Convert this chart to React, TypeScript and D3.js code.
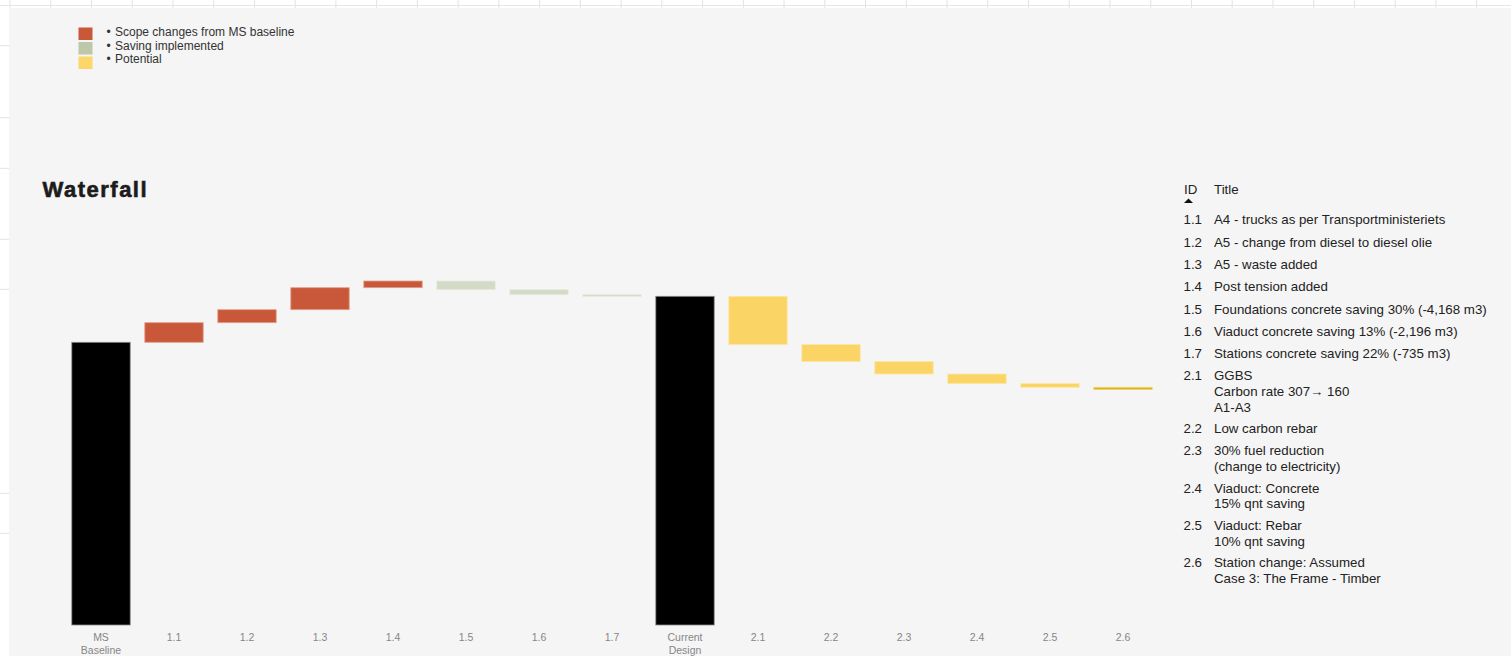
import React from "react";
import * as d3 from "d3";

// ---- data ----
const categories: string[] = ["MS Baseline", "1.1", "1.2", "1.3", "1.4", "1.5", "1.6", "1.7", "Current Design", "2.1", "2.2", "2.3", "2.4", "2.5", "2.6"];
// change per step; totals are computed (null)
const deltas: (number | null)[] = [282.7, 19.6, 13, 22, 6.7, -8.7, -5, -1.6, null, -48.3, -17, -12.4, -9.6, -3.7, -2.3];
const kinds: string[] = ["total", "scope", "scope", "scope", "scope", "saving", "saving", "saving", "total", "potential", "potential", "potential", "potential", "potential", "potential"];

const legendLabels: string[] = ["Scope changes from MS baseline", "Saving implemented", "Potential"];
const legendKinds: string[] = ["scope", "saving", "potential"];

const tableIds: string[] = ["1.1", "1.2", "1.3", "1.4", "1.5", "1.6", "1.7", "2.1", "2.2", "2.3", "2.4", "2.5", "2.6"];
const tableTitles: string[][] = [
  ["A4 - trucks as per Transportministeriets"],
  ["A5 - change from diesel to diesel olie"],
  ["A5 - waste added"],
  ["Post tension added"],
  ["Foundations concrete saving 30% (-4,168 m3)"],
  ["Viaduct concrete saving 13% (-2,196 m3)"],
  ["Stations concrete saving 22% (-735 m3)"],
  ["GGBS", "Carbon rate 307\u2192 160", "A1-A3"],
  ["Low carbon rebar"],
  ["30% fuel reduction", "(change to electricity)"],
  ["Viaduct: Concrete", "15% qnt saving"],
  ["Viaduct: Rebar", "10% qnt saving"],
  ["Station change: Assumed", "Case 3: The Frame - Timber"],
];

const fills: Record<string, string> = { total: "#000000", scope: "#c9583a", saving: "#d3dbc6", potential: "#fad566" };
const strokes: Record<string, string> = { total: "#8a8a8a", scope: "#e3a08e", saving: "#e6ebde", potential: "#fde7a4" };
const legendFills: Record<string, string> = { scope: "#c9583a", saving: "#bcc8a8", potential: "#fcd767" };

const FONT = "'Liberation Sans', Arial, sans-serif";

export default function App() {
  const W = 1511, H = 656;
  const x = d3.scaleBand<string>().domain(categories).range([64.5, 1159.5]).paddingInner(0.2).paddingOuter(0.1);
  const y = d3.scaleLinear().domain([0, 400]).range([625, 225]);

  let run = 0;
  const bars = categories.map((c, i) => {
    const d = deltas[i];
    let y0: number, y1: number;
    if (kinds[i] === "total") {
      if (d !== null) run = d;
      y0 = 0; y1 = run;
    } else {
      y0 = run; run = run + (d as number); y1 = run;
    }
    return { c, kind: kinds[i], lo: Math.min(y0, y1), hi: Math.max(y0, y1), i };
  });

  // grid lines of the sheet outside the panel
  const vGrid = d3.range(0, 37).map((k) => 10 + 40.74 * k);
  const hGrid = [45.7, 117.7, 168.3, 239.3, 289.3, 493.3, 533.3];

  // table layout
  let ty = 224.3;
  const rows = tableIds.map((id, i) => {
    const r = { id, lines: tableTitles[i], y: ty };
    ty += 22.3 + (tableTitles[i].length - 1) * 15.1;
    return r;
  });

  return (
    <svg width={W} height={H} style={{ position: "absolute", left: 0, top: 0, display: "block" }} fontFamily={FONT}>
      <rect x={0} y={0} width={W} height={H} fill="#ffffff" />
      {vGrid.map((gx, k) => (
        <line key={"v" + k} x1={gx} x2={gx} y1={0} y2={8} stroke="#e3e3e3" strokeWidth={1} />
      ))}
      <line x1={0} x2={W} y1={5.5} y2={5.5} stroke="#e6e6e6" strokeWidth={1} />
      {hGrid.map((gy, k) => (
        <line key={"h" + k} x1={0} x2={9} y1={gy} y2={gy} stroke="#e3e3e3" strokeWidth={1} />
      ))}
      <rect x={9} y={8} width={W - 9} height={H - 8} fill="#f5f5f5" />

      {/* legend */}
      {legendLabels.map((l, i) => (
        <g key={l}>
          <rect x={78.5} y={27.5 + i * 14.5} width={14} height={12.5} fill={legendFills[legendKinds[i]]} />
          <text x={106.5} y={36 + i * 13.6} fontSize={12} fill="#333">{"\u2022"}</text>
          <text x={115} y={36 + i * 13.6} fontSize={12} fill="#333">{l}</text>
        </g>
      ))}

      {/* title */}
      <text x={42.5} y={196.7} fontSize={22} fontWeight="bold" fill="#1c1c1c" stroke="#1c1c1c" strokeWidth={0.6} letterSpacing={1.5}>Waterfall</text>

      {/* bars */}
      {bars.map((b) => {
        const top = y(b.hi), bot = y(b.lo);
        const last = b.i === bars.length - 1;
        return (
          <rect
            key={b.c}
            x={x(b.c)}
            y={top}
            width={x.bandwidth()}
            height={Math.max(1, bot - top)}
            fill={last ? "#d9b320" : fills[b.kind]}
            stroke={last ? "#f3d56a" : strokes[b.kind]}
            strokeWidth={0.8}
          />
        );
      })}

      {/* x labels */}
      {categories.map((c) => {
        const words = c.split(" ");
        const cx = (x(c) as number) + x.bandwidth() / 2;
        return (
          <text key={"l" + c} x={cx} y={640.5} fontSize={10.5} fill="#868686" textAnchor="middle">
            {words.map((w, k) => (
              <tspan key={k} x={cx} dy={k === 0 ? 0 : 13}>{w}</tspan>
            ))}
          </text>
        );
      })}

      {/* table */}
      <text x={1184} y={194} fontSize={13.3} fill="#222">ID</text>
      <text x={1214} y={194} fontSize={13.3} fill="#222">Title</text>
      <path d="M1184,203 L1193,203 L1188.5,198.5 Z" fill="#111" />
      {rows.map((r) => (
        <g key={r.id}>
          <text x={1183.5} y={r.y} fontSize={13.3} fill="#222">{r.id}</text>
          {r.lines.map((ln, k) => (
            <text key={k} x={1214} y={r.y + k * 15.6} fontSize={13.3} fill="#222">{ln}</text>
          ))}
        </g>
      ))}
    </svg>
  );
}
